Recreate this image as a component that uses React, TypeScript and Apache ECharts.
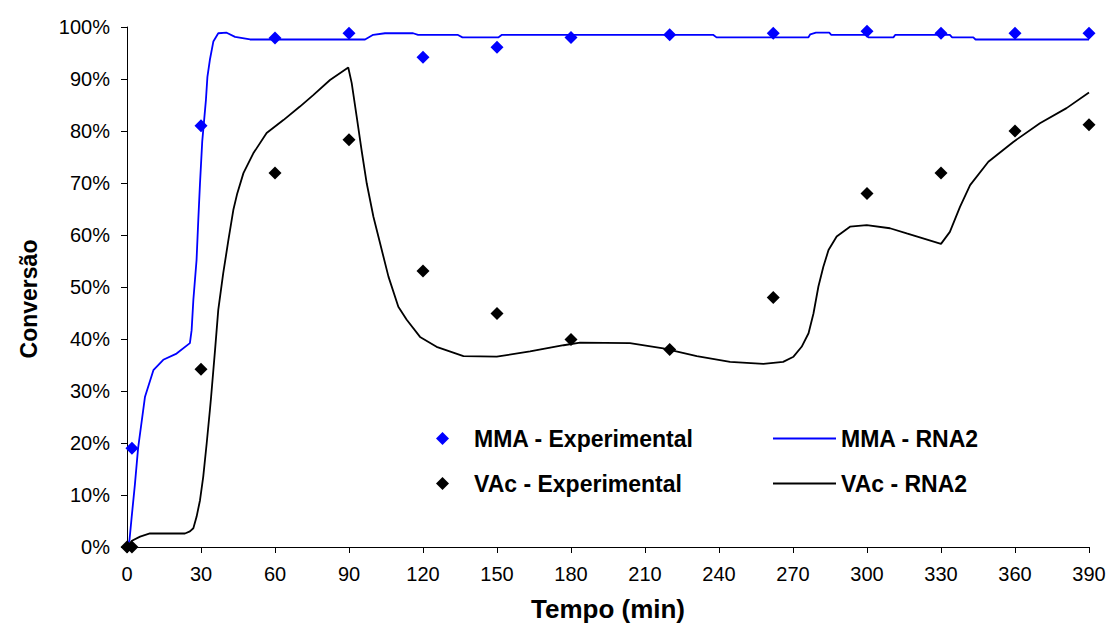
import React, { useEffect, useRef } from "react";
import * as echarts from "echarts";

// Experimental points: time (min) and conversion (fraction)
const mmaExpTime = [2, 30, 60, 90, 120, 150, 180, 220, 262, 300, 330, 360, 390];
const mmaExpConv = [0.19, 0.81, 0.979, 0.988, 0.942, 0.961, 0.98, 0.985, 0.988, 0.992, 0.988, 0.988, 0.988];

const vacExpTime = [0, 2, 30, 60, 90, 120, 150, 180, 220, 262, 300, 330, 360, 390];
const vacExpConv = [0, 0, 0.342, 0.719, 0.783, 0.531, 0.449, 0.399, 0.38, 0.48, 0.68, 0.719, 0.8, 0.812];

// RNA2 model curves: [time (min), conversion]
const mmaRna2: [number, number][] = [
  [0, 0], [1, 0.013], [1.9, 0.058], [3.2, 0.12], [4.5, 0.19], [7.3, 0.289], [10.7, 0.34],
  [14.7, 0.36], [20.1, 0.372], [25.5, 0.392], [26.2, 0.417], [26.9, 0.475], [28.2, 0.552],
  [28.9, 0.629], [29.6, 0.7], [30.5, 0.78], [32.0, 0.86], [32.6, 0.904], [33.6, 0.937],
  [35, 0.972], [37, 0.988], [40.4, 0.989], [43.8, 0.981], [49.9, 0.976], [96.5, 0.976],
  [99.8, 0.985], [104.6, 0.988], [116, 0.988], [118, 0.985], [134, 0.985], [136, 0.98],
  [150.5, 0.98], [152, 0.985], [237.6, 0.985], [239, 0.98], [276.2, 0.98], [277, 0.986],
  [279.3, 0.989], [284.7, 0.989], [285.5, 0.985], [299.9, 0.985], [300.5, 0.98], [310.7, 0.98],
  [311.5, 0.985], [333.6, 0.985], [334.5, 0.98], [343.1, 0.98], [344, 0.976], [390, 0.976],
];

const vacRna2: [number, number][] = [
  [0, 0], [2, 0.012], [5.3, 0.02], [9.3, 0.026], [23.5, 0.026], [25.5, 0.03], [26.9, 0.036],
  [28.2, 0.058], [29.6, 0.09], [30.9, 0.135], [32.3, 0.199], [33.6, 0.263], [34.1, 0.289],
  [35.7, 0.379], [37, 0.456], [39, 0.526], [41.1, 0.59], [43.1, 0.648], [44.7, 0.68],
  [47.2, 0.719], [51.2, 0.757], [56.6, 0.796], [63.4, 0.821], [70.1, 0.847], [75.5, 0.869],
  [82.3, 0.898], [89.7, 0.922], [91.1, 0.892], [93.1, 0.828], [95.1, 0.763], [97.2, 0.699],
  [99.9, 0.635], [102.6, 0.584], [106, 0.52], [110, 0.462], [113.4, 0.437], [118.8, 0.404],
  [125.5, 0.385], [136.4, 0.367], [149.9, 0.366], [163.4, 0.376], [177, 0.388], [183.7, 0.393],
  [203.9, 0.392], [217.4, 0.382], [231, 0.367], [244.5, 0.356], [258, 0.352], [266, 0.356],
  [270.2, 0.366], [273.5, 0.385], [276.3, 0.411], [278.3, 0.449], [280.3, 0.501], [282.3, 0.539],
  [284.4, 0.571], [287.7, 0.597], [293.1, 0.616], [299.9, 0.619], [309.3, 0.613], [316.1, 0.603],
  [330, 0.583], [333.6, 0.606], [337.7, 0.654], [341.8, 0.696], [349.2, 0.741], [359.3, 0.779],
  [370.1, 0.815], [380.9, 0.844], [390, 0.874],
];

const seriesNames = ["MMA - Experimental", "VAc - Experimental", "MMA - RNA2", "VAc - RNA2"];
const xAxisTitle = "Tempo (min)";
const yAxisTitle = "Conversão";

const FONT = "'Liberation Sans', Arial, sans-serif";

export default function App() {
  const ref = useRef<HTMLDivElement>(null);

  useEffect(() => {
    if (!ref.current) return;
    const chart = echarts.init(ref.current, undefined, { renderer: "svg" });
    const pair = (xs: number[], ys: number[]) => xs.map((x, i) => [x, ys[i]]);
    const legendText = {
      fontSize: 23,
      fontWeight: "bold",
      fontFamily: FONT,
      color: "#000",
    };
    chart.setOption({
      animation: false,
      backgroundColor: "#fff",
      grid: { left: 127, right: 21, top: 27, bottom: 90, containLabel: false },
      xAxis: {
        type: "value",
        min: 0,
        max: 390,
        interval: 30,
        name: xAxisTitle,
        nameLocation: "middle",
        nameGap: 49,
        nameTextStyle: { fontSize: 26, fontWeight: "bold", fontFamily: FONT, color: "#000" },
        axisLine: { show: true, onZero: false, lineStyle: { color: "#000", width: 1 } },
        axisTick: { show: true, inside: false, length: 6, lineStyle: { color: "#000" } },
        axisLabel: { fontSize: 20, fontFamily: FONT, color: "#000", margin: 17 },
        splitLine: { show: false },
      },
      yAxis: {
        type: "value",
        min: 0,
        max: 1,
        interval: 0.1,
        name: yAxisTitle,
        nameLocation: "middle",
        nameGap: 87,
        nameRotate: 90,
        nameTextStyle: {
          fontSize: 23,
          fontWeight: "bold",
          fontFamily: FONT,
          color: "#000",
          padding: [0, 24, 0, 0],
        },
        axisLine: { show: true, lineStyle: { color: "#000", width: 1 } },
        axisTick: { show: true, inside: false, length: 6, lineStyle: { color: "#000" } },
        axisLabel: {
          fontSize: 20,
          fontFamily: FONT,
          color: "#000",
          margin: 17,
          formatter: (v: number) => Math.round(v * 100) + "%",
        },
        splitLine: { show: false },
      },
      legend: [
        {
          data: [seriesNames[0], seriesNames[1]],
          orient: "vertical",
          left: 431,
          top: 422,
          itemWidth: 13,
          itemHeight: 13,
          itemGap: 22,
          textStyle: { ...legendText, padding: [0, 0, 0, 20] },
        },
        {
          data: [
            { name: seriesNames[2], icon: "rect" },
            { name: seriesNames[3], icon: "rect" },
          ],
          orient: "vertical",
          left: 768,
          top: 422,
          itemWidth: 63,
          itemHeight: 2,
          itemGap: 22,
          textStyle: { ...legendText },
        },
      ],
      series: [
        {
          name: seriesNames[0],
          type: "scatter",
          symbol: "diamond",
          symbolSize: 13,
          itemStyle: { color: "#0000FF", opacity: 1 },
          data: pair(mmaExpTime, mmaExpConv),
          z: 3,
        },
        {
          name: seriesNames[1],
          type: "scatter",
          symbol: "diamond",
          symbolSize: 13,
          itemStyle: { color: "#000000", opacity: 1 },
          data: pair(vacExpTime, vacExpConv),
          z: 3,
        },
        {
          name: seriesNames[2],
          type: "line",
          symbol: "none",
          lineStyle: { color: "#0000FF", width: 1.8 },
          itemStyle: { color: "#0000FF" },
          data: mmaRna2,
          z: 2,
        },
        {
          name: seriesNames[3],
          type: "line",
          symbol: "none",
          lineStyle: { color: "#000000", width: 1.8 },
          itemStyle: { color: "#000000" },
          data: vacRna2,
          z: 2,
        },
      ],
    });
    return () => chart.dispose();
  }, []);

  return (
    <div
      ref={ref}
      style={{ position: "fixed", left: 0, top: 0, width: 1110, height: 637, background: "#fff" }}
    />
  );
}
